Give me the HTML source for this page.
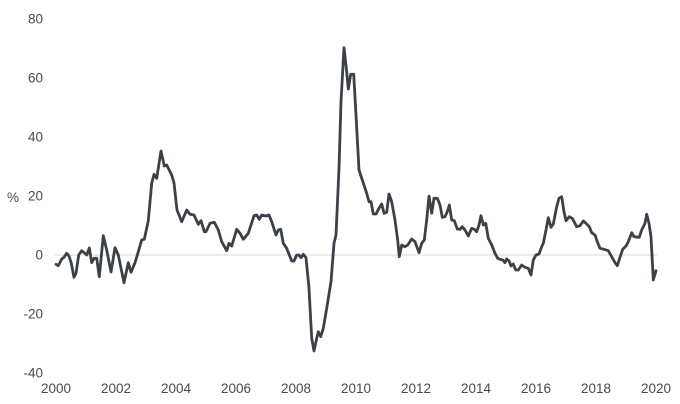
<!DOCTYPE html>
<html>
<head>
<meta charset="utf-8">
<style>
  html,body{margin:0;padding:0;background:#fff;}
  svg{display:block;}
  text{font-family:"Liberation Sans",Arial,sans-serif;font-size:13.5px;fill:#4a4a4a;}
</style>
</head>
<body>
<svg width="680" height="404" viewBox="0 0 680 404" xmlns="http://www.w3.org/2000/svg">
  <rect width="680" height="404" fill="#fff"/>
  <line x1="55" y1="255" x2="657" y2="255" stroke="#d9d9d9" stroke-width="1"/>
  <g text-anchor="end">
    <text x="43" y="23.5">80</text>
    <text x="43" y="82.5">60</text>
    <text x="43" y="141.5">40</text>
    <text x="43" y="200.5">20</text>
    <text x="43" y="259.5">0</text>
    <text x="43" y="318.5">-20</text>
    <text x="43" y="377.5">-40</text>
  </g>
  <text x="7" y="202">%</text>
  <g text-anchor="middle">
    <text x="56" y="393">2000</text>
    <text x="116" y="393">2002</text>
    <text x="176" y="393">2004</text>
    <text x="236" y="393">2006</text>
    <text x="296" y="393">2008</text>
    <text x="356" y="393">2010</text>
    <text x="416" y="393">2012</text>
    <text x="476" y="393">2014</text>
    <text x="536" y="393">2016</text>
    <text x="596" y="393">2018</text>
    <text x="656" y="393">2020</text>
  </g>
  <polyline fill="none" stroke="#3b4148" stroke-width="2.8" stroke-linejoin="round" stroke-linecap="round" points="
56,264.3 58.3,265.7 61.7,259 64,257.3 66.7,253.3 69,256 71.3,263.3 74,277.3 76,273.3 78.7,255 81.7,250.7 85,253.3 86.7,255 89.3,248 91.7,262.7 94,258.3 96.7,258.3 99.3,276.7 103.3,235.7 106.7,250 111,272 115,247.7 118.3,255 124,282.7 128.3,262.7 131,272.3 135,262.7 138.3,251.7 141.7,240 144.3,239.3 148.3,220.7 151.7,183.3 154,174.3 156.7,178.3 161,151 164.3,166 166.7,165 171.7,175
174,183 177,210 181.7,221.7 186.7,210 190,214.3 194,215 198.3,224.3 201,220.7 204.3,231.7 206,231.7 210,223.3 214.3,222.3 218.3,230 221.7,241.7 226.7,250.7 229,243.3 231.7,246 236.7,229.3 240,233.3 243.3,239.3 248.3,233.3 254,215.7 256.7,215 259.3,219.3 261.7,215 266,216 269,215 271.7,221.7 276,235 278.3,230 280.7,229.3 283.3,243.3 286.7,248.3
291.7,261 294,261 296.7,255 299,255 301,257.7 303.3,254.3 306,257.7 309,288.3 311.7,338.3 314,351 316.7,338.3 318.3,331.7 320.7,336.7 323.3,328.3 326.7,308.3 331,281.7 334,243.3 336,235 339,168.3 341,101.7 344,47.7 346.7,71.7 348.3,89 350.7,74.3 353.7,74.3 356,115 359,170
362.3,180 366.7,193.3 369,201.7 371,201.7 373.3,214 376,214 379,208.3 381.7,204 384,213.3 386.7,212.3 389,194 391.7,201.7 395,220 397.7,240 399.3,256.7 401.7,245 405,246.7 407.7,245 411.7,239 415,241.7 419,252.7 421.7,243.3 424.3,240 426.7,220 429,196 431.7,213.3 434,198.3
437.3,198.3 440,205 442.3,217.3 445,216.7 447.3,211.7 449.3,205 451.7,220 454.3,220.7 457.3,229 460,229.3 462.3,226.7 465,230 468.3,236 471.7,228.3 474.3,229.3 476.7,231.7 479,225 481,215.7 483.3,225 485.7,223.3 488.3,238.3 491.7,245 495,253.3 497.7,258.3 500,259.3 502.7,260 505,262.7 506.7,259 509,260.7 511,266 513.3,264 515.7,270 518.3,270 521.7,265 525,267.3 528.3,268.3 531,275 533.3,260 536,255 539,254 541.7,246.7
543.3,243.3 546,230 548.3,217.7 551,227.3 553.3,224 556.7,206.7 559,198.3 561.7,196.7 564,211.7 566,220.7 569.3,216.7 572.3,218.3 576.7,226.7 580,225.7 583.3,221 586,223.3 589.3,226.7 591.7,232.7 595,235 597.3,241.7 600,248.3 604,249.3 608.3,250.7 611.7,256.7 615,262.7 617.3,265.7 620,257.3 622.7,249.3 626,246 628.3,241.7 631.7,232.7 634,236.7 639.3,237.3 641.7,230 645,223.3 646.7,214.3 649,223.3 651,236.7 653.3,280 656,270.7"/>
</svg>
</body>
</html>
